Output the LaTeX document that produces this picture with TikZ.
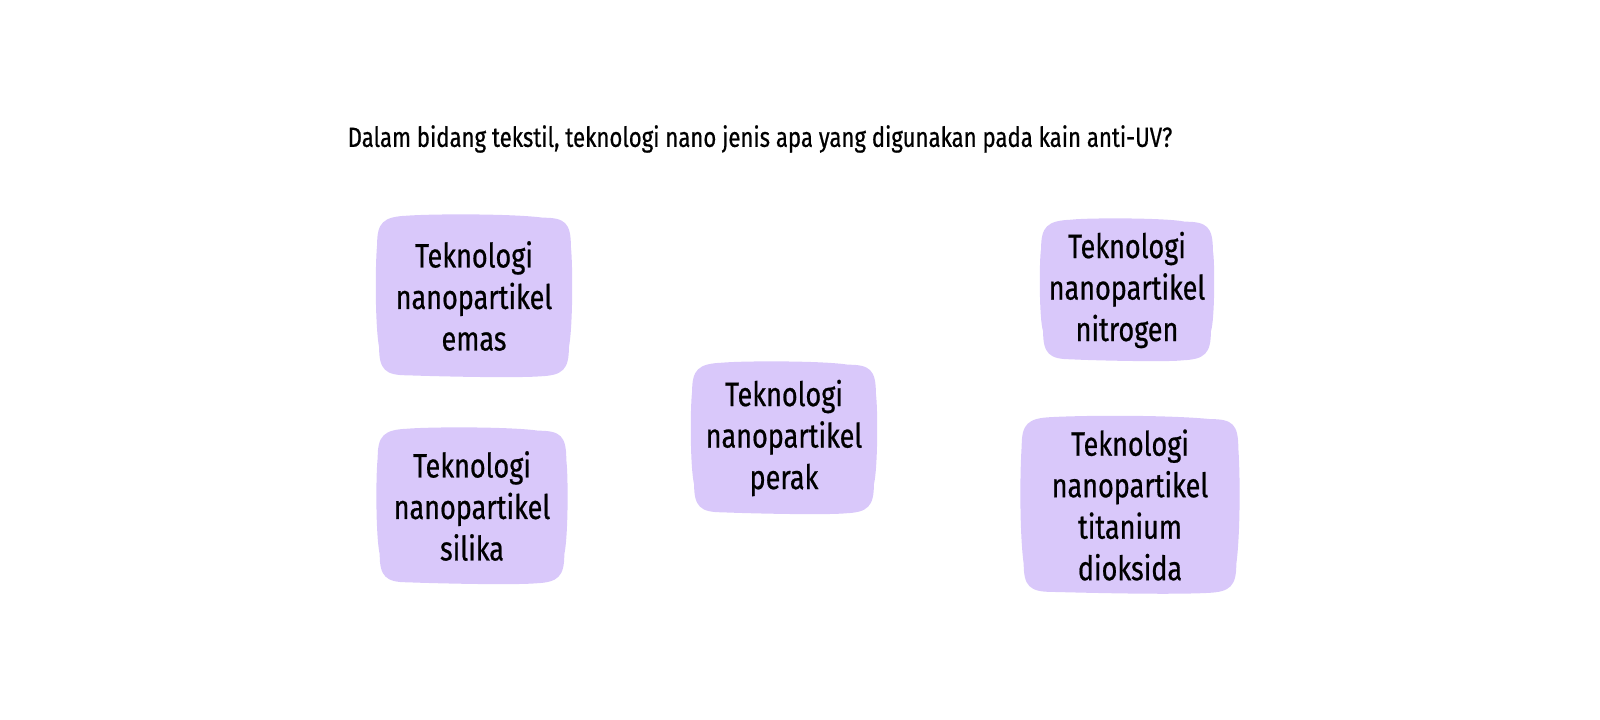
\documentclass[tikz,border=0pt]{standalone}
\usepackage{fontspec}
\setmainfont[FakeStretch=0.8, FakeBold=0.6]{Fira Sans}
\usepackage{tikz}
\usetikzlibrary{calc, backgrounds}
\definecolor{lavender}{RGB}{217,200,250}

\begin{document}
\begin{tikzpicture}[
        x=0.025cm, y=-0.025cm,
        every node/.style={align=center, inner sep=0pt, font=\fontsize{24}{29.5}\selectfont}
        ]
        \useasboundingbox (0,0) rectangle (1600,720);
        % Question
        \node[font=\fontsize{19.7}{24}\selectfont] (question) at (760,139) {Dalam bidang tekstil, teknologi nano jenis apa yang digunakan pada kain anti-UV?};
        
        % Nodes
        \node[minimum width=4.83cm, minimum height=3.95cm] (emas) at (474,296) {Teknologi\\nanopartikel\\emas};
        \node[minimum width=4.7cm, minimum height=3.8cm] (silika) at (472,506) {Teknologi\\nanopartikel\\silika};
        \node[minimum width=4.58cm, minimum height=3.7cm] (perak) at (784,438) {Teknologi\\nanopartikel\\perak};
        \node[minimum width=4.28cm, minimum height=3.45cm] (nitrogen) at (1127,290) {Teknologi\\nanopartikel\\nitrogen};
        \node[minimum width=5.4cm, minimum height=4.33cm] (titanium) at (1130,505) {Teknologi\\nanopartikel\\titanium\\dioksida};
        
        % Blobs behind the nodes
        \begin{scope}[on background layer]
        \foreach \n in {emas, silika, perak, nitrogen, titanium} {
          \fill[lavender] ($(\n.north west)+(0,28)$)
            .. controls ($(\n.north west)+(0,6)$) and ($(\n.north west)+(6,0)$) .. ($(\n.north west)+(30,-1)$)
            .. controls ($(\n.north)+(-40,-3)$) and ($(\n.north)+(40,-3)$) .. ($(\n.north east)+(-28,1)$)
            .. controls ($(\n.north east)+(-6,1)$) and ($(\n.north east)+(0,6)$) .. ($(\n.north east)+(0,30)$)
            .. controls ($(\n.east)+(2,-30)$) and ($(\n.east)+(2,30)$) .. ($(\n.south east)+(-2,-28)$)
            .. controls ($(\n.south east)+(-2,-6)$) and ($(\n.south east)+(-8,0)$) .. ($(\n.south east)+(-30,1)$)
            .. controls ($(\n.south)+(40,3)$) and ($(\n.south)+(-40,1)$) .. ($(\n.south west)+(30,0)$)
            .. controls ($(\n.south west)+(8,0)$) and ($(\n.south west)+(2,-6)$) .. ($(\n.south west)+(2,-28)$)
            .. controls ($(\n.west)+(-2,30)$) and ($(\n.west)+(-2,-30)$) .. cycle;
        }
        \end{scope}
    \end{tikzpicture}
\end{document}
